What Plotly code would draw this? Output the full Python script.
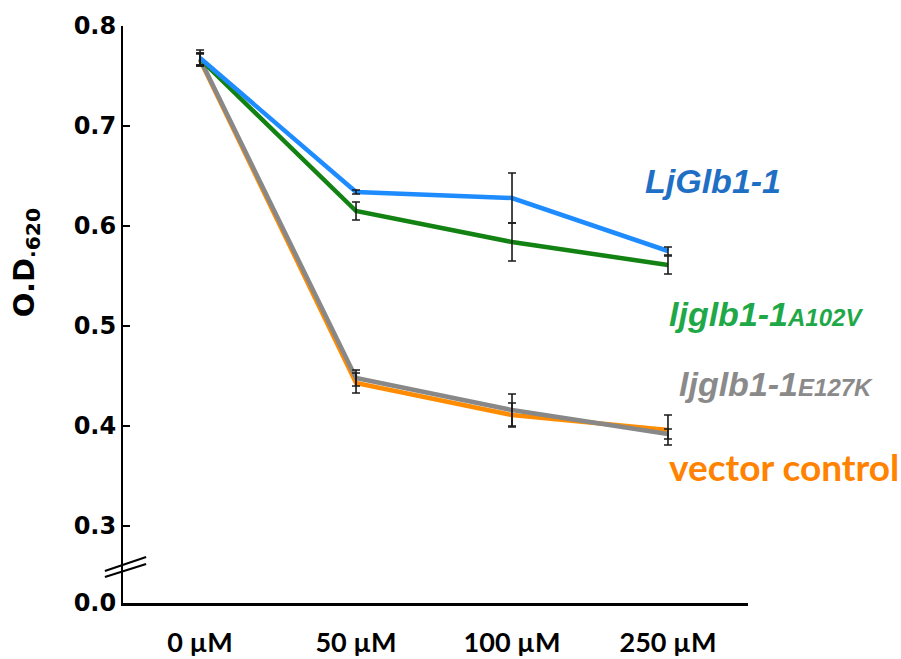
import plotly.graph_objects as go

# ---- data ----
categories = ["0 µM", "50 µM", "100 µM", "250 µM"]
series_names = ["vector control", "ljglb1-1E127K", "ljglb1-1A102V", "LjGlb1-1"]
vector_control = [0.766, 0.443, 0.411, 0.396]
vector_control_err = [0.006, 0.010, 0.012, 0.015]
e127k = [0.767, 0.448, 0.416, 0.392]
e127k_err = [0.006, 0.008, 0.016, 0.005]
a102v = [0.767, 0.615, 0.584, 0.561]
a102v_err = [0.006, 0.009, 0.019, 0.009]
ljglb = [0.768, 0.634, 0.628, 0.575]
ljglb_err = [0.008, 0.002, 0.025, 0.004]

ytick_vals = [0.223, 0.3, 0.4, 0.5, 0.6, 0.7, 0.8]
ytick_text = ["0.0", "0.3", "0.4", "0.5", "0.6", "0.7", "0.8"]

line_colors = ["#FF8C00", "#888888", "#128212", "#1E8CFF"]
values = [vector_control, e127k, a102v, ljglb]
errors = [vector_control_err, e127k_err, a102v_err, ljglb_err]

fig = go.Figure()
for name, vals, col in zip(series_names, values, line_colors):
    fig.add_trace(go.Scatter(x=categories, y=vals, mode="lines", name=name,
                             line=dict(color=col, width=4.5), showlegend=False,
                             hoverinfo="skip"))
for name, vals, err in zip(series_names, values, errors):
    fig.add_trace(go.Scatter(x=categories, y=vals, mode="markers", name=name + " err",
                             marker=dict(size=1, color="rgba(0,0,0,0)"),
                             error_y=dict(type="data", array=err, visible=True,
                                          color="#1a1a1a", thickness=1.6, width=4),
                             showlegend=False, hoverinfo="skip"))

fig.update_layout(
    width=901, height=659,
    margin=dict(l=123, r=153, t=26, b=56, autoexpand=False),
    plot_bgcolor="white", paper_bgcolor="white",
    xaxis=dict(type="category", range=[-0.494, 3.513], showgrid=False, zeroline=False,
               automargin=False,
               showline=True, linecolor="black", linewidth=3, ticks="",
               tickfont=dict(family="Lato, Liberation Sans, sans-serif", size=27, color="black",
                             weight="bold"),
               ticklabelstandoff=14),
    yaxis=dict(range=[0.223, 0.8], showgrid=False, zeroline=False, automargin=False,
               showline=True, linecolor="black", linewidth=2,
               tickmode="array", tickvals=ytick_vals, ticktext=ytick_text,
               ticks="inside", ticklen=7, tickwidth=1.5, tickcolor="black",
               tickfont=dict(family="DejaVu Sans, Verdana, sans-serif", size=24, color="black",
                             weight="bold")),
)

# y-axis title
fig.add_annotation(text="<b>O.D<sub>·620</sub></b>", textangle=-90, xref="paper", yref="y",
                   x=-0.155, y=0.563, showarrow=False, xanchor="center", yanchor="middle",
                   font=dict(family="DejaVu Sans, Verdana, sans-serif", size=29, color="black"))

# axis break marks
for y0, y1 in [(0.255, 0.269), (0.249, 0.262)]:
    fig.add_shape(type="line", xref="paper", yref="y", x0=-0.029, x1=0.037, y0=y0, y1=y1,
                  line=dict(color="black", width=2))

lab_font = "Liberation Sans, Arial, sans-serif"
sub = '<span style="font-size:24px">{}</span>'
fig.add_annotation(text="<b><i>LjGlb1-1</i></b>", xref="paper", yref="y", x=0.832, y=0.645,
                   xanchor="left", yanchor="middle", showarrow=False,
                   font=dict(family=lab_font, size=34, color="#1F6FC5"))
fig.add_annotation(text="<b><i>ljglb1-1" + sub.format("A102V") + "</i></b>", xref="paper", yref="y",
                   x=0.870, y=0.512, xanchor="left", yanchor="middle", showarrow=False,
                   font=dict(family=lab_font, size=34, color="#1FA847"))
fig.add_annotation(text="<b><i>ljglb1-1" + sub.format("E127K") + "</i></b>", xref="paper", yref="y",
                   x=0.886, y=0.442, xanchor="left", yanchor="middle", showarrow=False,
                   font=dict(family=lab_font, size=34, color="#8A8A8A"))
fig.add_annotation(text="<b>vector control</b>", xref="paper", yref="y",
                   x=0.870, y=0.360, xanchor="left", yanchor="middle", showarrow=False,
                   font=dict(family="Lato, Liberation Sans, sans-serif", size=37, color="#FF8200"))

fig.write_html("out.html", config={"displayModeBar": False},
               post_script="document.body.style.margin='0';document.body.style.overflow='hidden';")
